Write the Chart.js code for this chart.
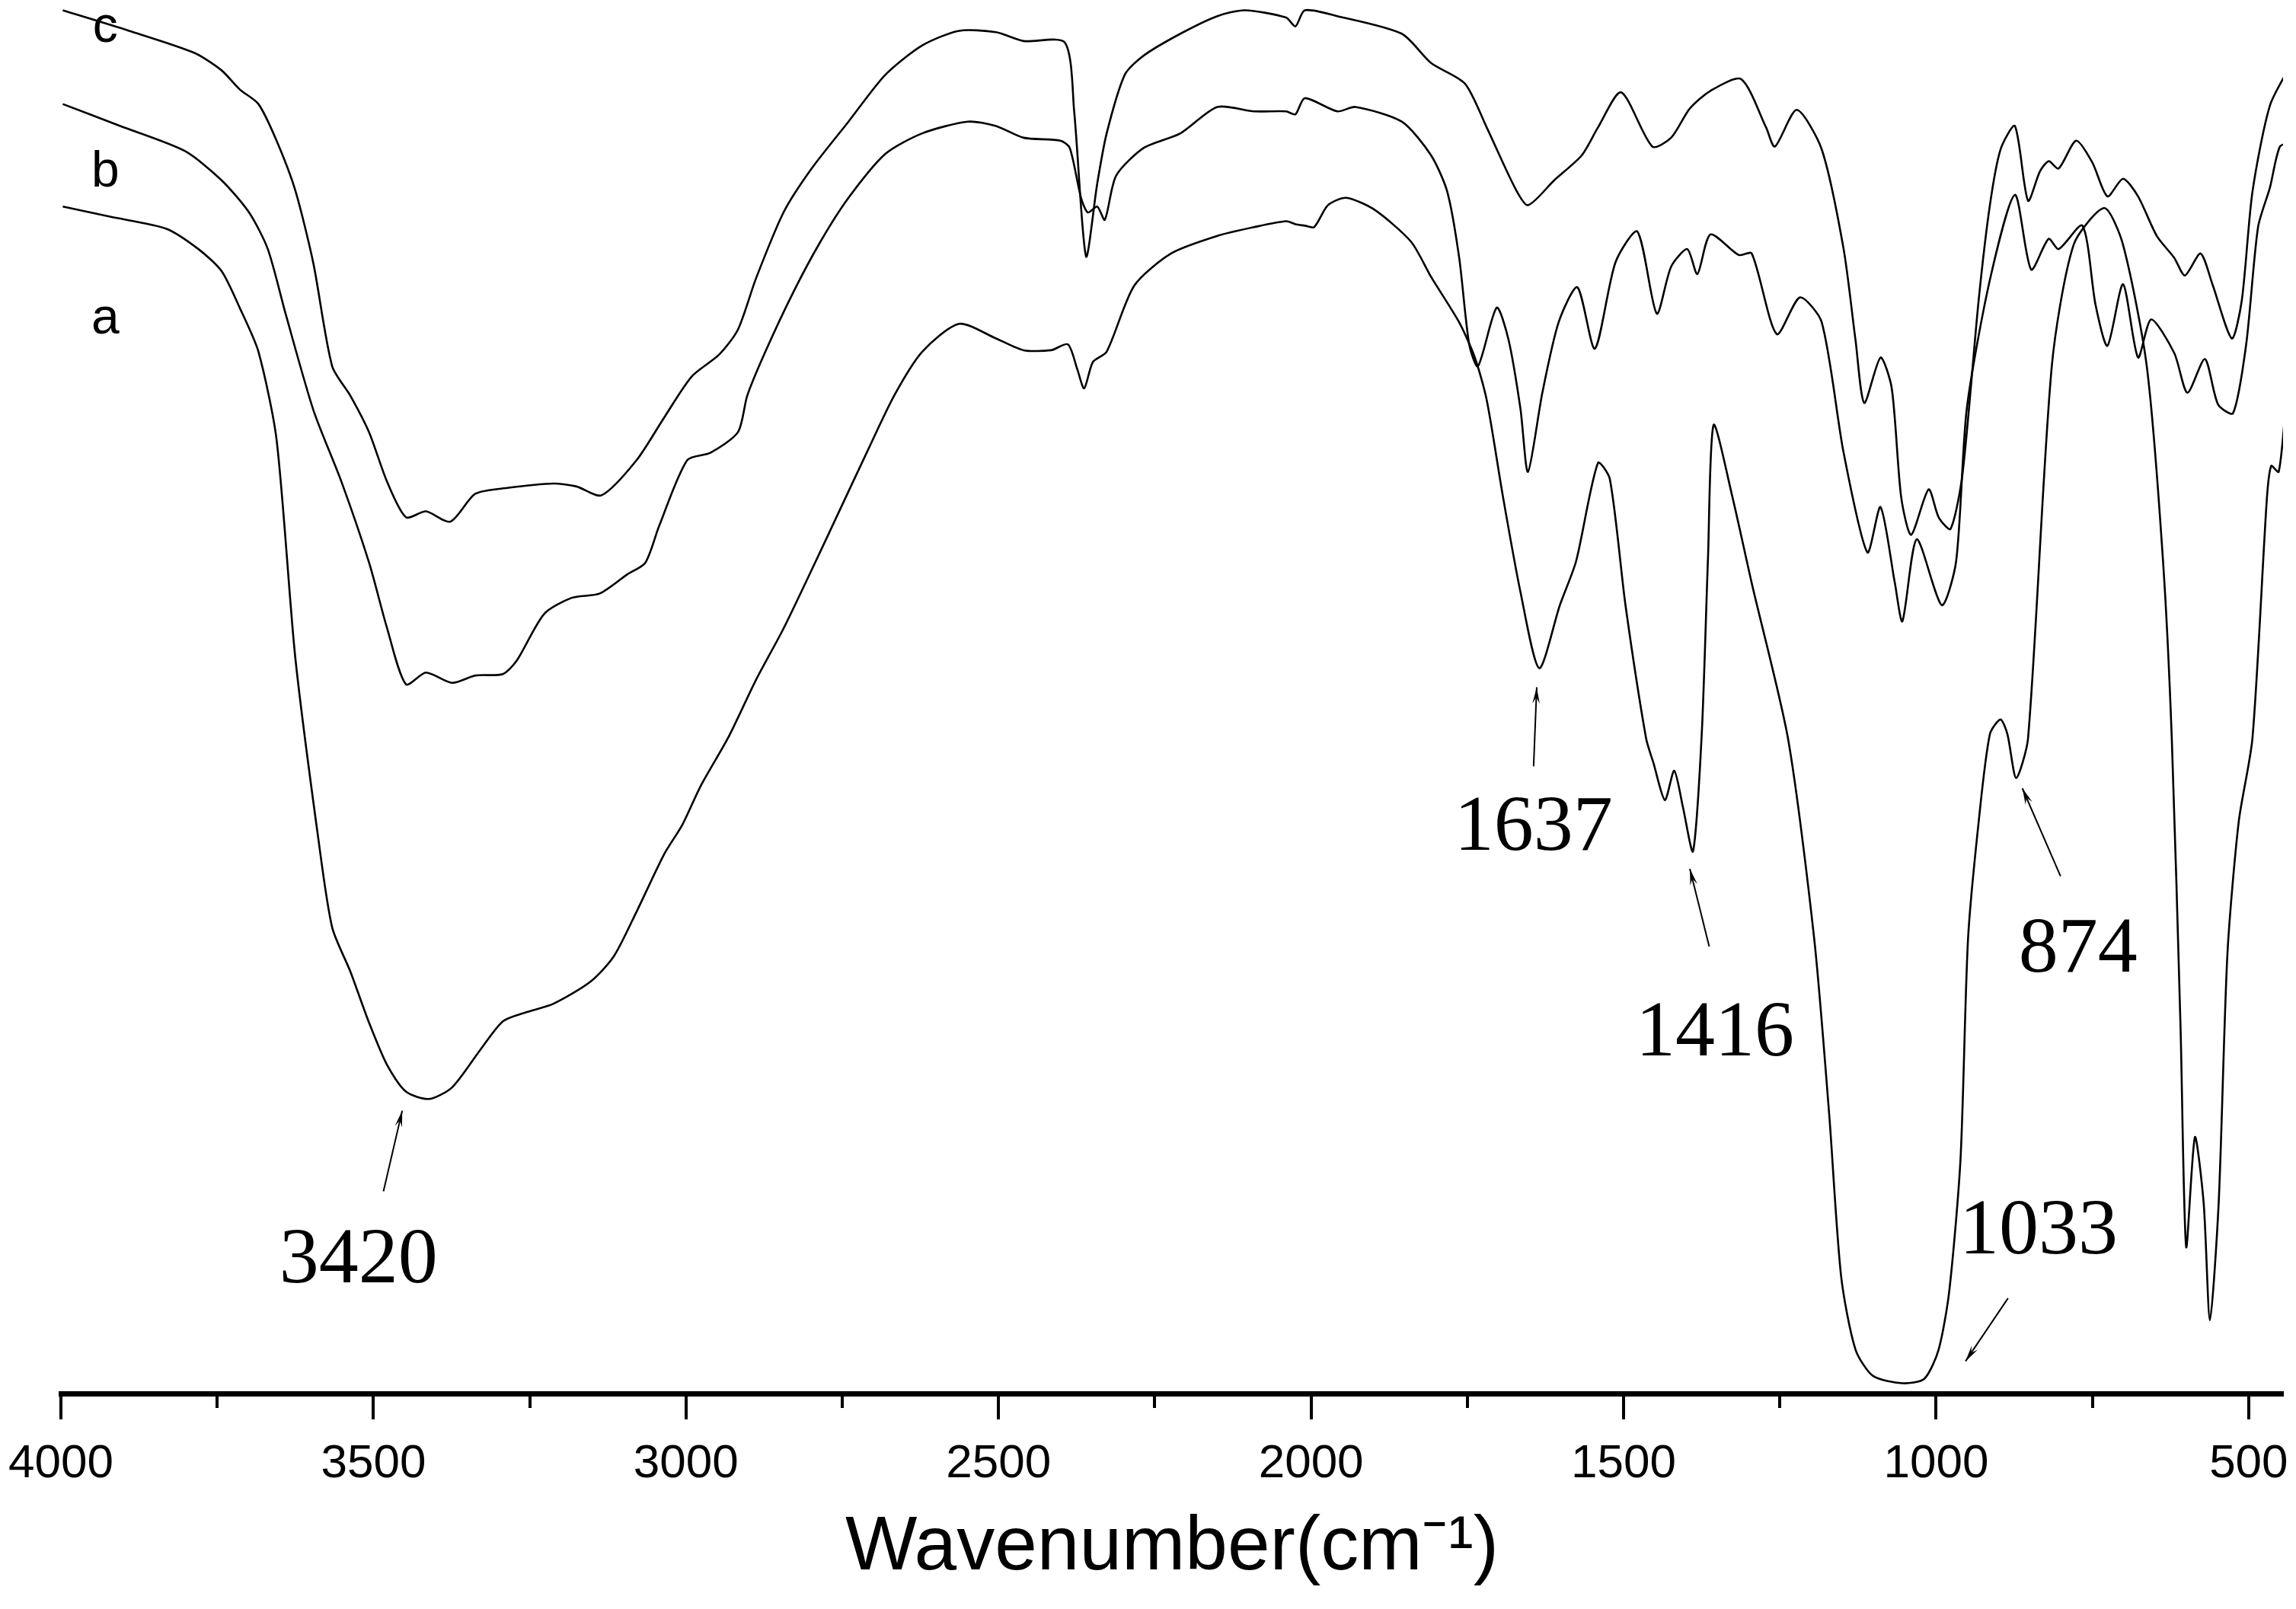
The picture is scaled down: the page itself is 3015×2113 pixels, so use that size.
<!DOCTYPE html>
<html><head><meta charset="utf-8">
<script src="https://cdn.jsdelivr.net/npm/chart.js@4"></script>
<style>html,body{margin:0;padding:0;background:#fff;}canvas{display:block;}</style>
</head><body>
<canvas id="c" width="3015" height="2113"></canvas>
<script>
// Wavenumber (cm-1) and transmittance (a.u.) for each spectrum
const cWn = [3997,3891,3787,3743,3714,3684,3655,3625,3596,3566,3537,3507,3478,3448,3416,3377,3337,3286,3212,3175,3135,3079,3035,2991,2947,2917,2888,2844,2799,2740,2681,2622,2563,2504,2460,2394,2379,2360,2342,2327,2298,2268,2209,2150,2106,2040,2025,2010,1958,1855,
 1808,1754,1719,1674,1653,1611,1567,1541,1504,1454,1424,1394,1361,1312,1272,1258,1223,1183,1148,1129,1115,1089,1071,1056,1040,1012,996,977,958,932,914,897,874,853,834,820,804,776,750,726,701,677,647,619,602,577,558,527,511,494,466,431];
const cT = [944,930,915,903,890,880,855,821,771,701,681,656,622,598,602,595,614,618,621,619,613,637,666,694,709,726,761,806,836,868,900,920,930,929,923,922,875,776,826,860,900,913,928,940,944,939,933,944,940,928,
 908,894,864,823,811,828,845,864,888,851,857,877,889,897,864,851,876,849,781,719,676,707,686,612,586,617,598,590,627,746,811,849,865,814,834,841,836,855,840,817,829,817,790,775,763,778,757,720,746,820,879,908];
const bWn = [3997,3905,3802,3743,3699,3669,3640,3596,3551,3507,3478,3448,3416,3374,3337,3293,3271,3227,3183,3138,3094,3065,3043,2998,2961,2917,2902,2873,2829,2785,2740,2681,2622,2549,2504,2460,2401,2386,2368,2357,2342,2330,2312,2268,2209,2150,2091,2040,2025,2010,1958,1929,1855,
 1808,1782,1763,1747,1733,1703,1684,1665,1653,1630,1604,1574,1546,1513,1478,1447,1424,1398,1382,1361,1316,1295,1255,1218,1183,1148,1110,1089,1066,1054,1031,991,968,951,914,874,848,820,804,766,745,726,701,677,656,619,598,570,549,525,504,485,466,450,431];
const bT = [880,865,848,828,806,781,736,671,622,567,522,484,492,485,490,491,500,532,543,546,559,567,592,637,642,656,681,711,751,786,816,846,860,868,865,857,855,850,816,806,810,801,831,850,860,878,875,875,873,884,875,878,868,
 845,820,775,716,701,741,719,672,629,683,731,755,713,772,793,737,769,781,764,791,777,778,723,748,731,642,574,605,553,527,583,538,568,672,760,818,767,788,781,797,743,715,757,707,733,710,683,706,675,669,716,796,823,851,854];
const aWn = [3997,3920,3832,3780,3743,3714,3684,3655,3625,3588,3566,3537,3507,3478,3448,3411,3374,3330,3293,3257,3212,3153,3116,3080,3035,3006,2976,2932,2888,2844,2799,2755,2711,2667,2622,2563,2504,2460,2416,2389,2374,2363,2349,2327,2283,2224,2150,2091,2040,2025,2010,1995,1973,1944,1899,1840,
 1808,1763,1738,1719,1693,1665,1635,1602,1576,1541,1522,1497,1464,1452,1434,1419,1405,1389,1375,1365,1356,1326,1295,1237,1195,1171,1152,1129,1101,1054,1019,996,979,961,949,932,914,897,886,872,853,815,780,731,701,663,637,623,609,600,586,572,562,548,534,516,494,471,464,452,441];
const aT = [810,803,795,781,766,741,711,651,502,378,318,288,253,224,206,201,209,234,254,260,266,281,298,328,368,388,415,448,487,522,562,602,642,681,711,730,720,712,712,716,699,686,704,711,756,778,790,796,800,798,797,796,811,816,808,786,
 762,731,707,678,612,547,495,538,568,635,624,538,447,430,405,425,400,370,450,570,661,612,553,447,310,190,80,30,12,7,10,30,70,160,310,390,450,460,450,420,447,701,784,809,784,701,568,447,250,100,175,130,50,130,300,390,447,610,633,629,672];
const xTicks = [4000,3500,3000,2500,2000,1500,1000,500];
const minorTicks = [3750,3250,2750,2250,1750,1250,750];
const peakLabels = ['3420','1637','1416','874','1033'];
const peakText = [[3524,90],[1644,385],[1354,245],[773,302],[836,110]];
const peakArrow = [[3484,138,3454,193],[1644,428,1639,482],[1363,305,1394,358],[801,353,862,413],[885,65,953,22]];
const seriesNames = ['c','b','a'];
const seriesLabelPos = [[3929,932],[3929,833],[3929,733]];

const mk = (w,t)=>w.map((x,i)=>({x:x,y:t[i]}));
const ds = (d)=>({data:d,borderColor:'#000',borderWidth:2.6,pointRadius:0,tension:0.25,fill:false});

const deco = {
  id:'deco',
  afterDraw(chart){
    const ctx = chart.ctx, xs = chart.scales.x, ys = chart.scales.y;
    const yA = xs.top;
    ctx.save();
    ctx.strokeStyle='#000'; ctx.lineWidth=4;
    xTicks.forEach(v=>{const p=Math.round(xs.getPixelForValue(v)); ctx.beginPath(); ctx.moveTo(p,yA); ctx.lineTo(p,yA+34); ctx.stroke();});
    minorTicks.forEach(v=>{const p=Math.round(xs.getPixelForValue(v)); ctx.beginPath(); ctx.moveTo(p,yA); ctx.lineTo(p,yA+19); ctx.stroke();});
    ctx.fillStyle='#000';
    ctx.font='104px "Liberation Serif", "Times New Roman", serif';
    ctx.textAlign='center'; ctx.textBaseline='middle';
    peakLabels.forEach((t,i)=>{ctx.fillText(t, xs.getPixelForValue(peakText[i][0]), ys.getPixelForValue(peakText[i][1]));});
    ctx.lineWidth=2;
    peakArrow.forEach(a=>{
      const x1=xs.getPixelForValue(a[0]), y1=ys.getPixelForValue(a[1]);
      const x2=xs.getPixelForValue(a[2]), y2=ys.getPixelForValue(a[3]);
      ctx.beginPath(); ctx.moveTo(x1,y1); ctx.lineTo(x2,y2); ctx.stroke();
      const ang=Math.atan2(y2-y1,x2-x1), L=22, W=0.22;
      ctx.beginPath(); ctx.moveTo(x2,y2);
      ctx.lineTo(x2-L*Math.cos(ang-W), y2-L*Math.sin(ang-W));
      ctx.lineTo(x2-L*0.6*Math.cos(ang), y2-L*0.6*Math.sin(ang));
      ctx.lineTo(x2-L*Math.cos(ang+W), y2-L*Math.sin(ang+W));
      ctx.closePath(); ctx.fill();
    });
    ctx.font='66px "Liberation Sans", Arial, sans-serif';
    seriesNames.forEach((n,i)=>{ctx.fillText(n, xs.getPixelForValue(seriesLabelPos[i][0]), ys.getPixelForValue(seriesLabelPos[i][1]));});
    ctx.restore();
  }
};

new Chart(document.getElementById('c'),{
  type:'line',
  data:{datasets:[ds(mk(cWn,cT)),ds(mk(bWn,bT)),ds(mk(aWn,aT))]},
  options:{
    responsive:false, animation:false, devicePixelRatio:1,
    layout:{padding:{left:80,right:17,top:0,bottom:0}},
    plugins:{legend:{display:false},tooltip:{enabled:false}},
    scales:{
      x:{type:'linear',reverse:true,min:445,max:4000,
        afterBuildTicks:(s)=>{s.ticks=xTicks.map(v=>({value:v}));},
        afterFit:(s)=>{s.height=283; s.paddingLeft=0; s.paddingRight=0;},
        grid:{display:false,drawTicks:false},
        border:{display:true,color:'#000',width:7},
        ticks:{color:'#000',padding:56,maxRotation:0,autoSkip:false,
          callback:(v)=>String(v),
          font:{family:'"Liberation Sans Narrow", "Liberation Sans", Arial',size:62}},
        title:{display:true,text:'Wavenumber(cm⁻¹)',color:'#000',
          font:{family:'"Liberation Sans Narrow", "Liberation Sans", Arial',size:100},padding:{top:10,bottom:20}}
      },
      y:{display:false,min:0,max:951}
    }
  },
  plugins:[deco]
});
</script>
</body></html>
